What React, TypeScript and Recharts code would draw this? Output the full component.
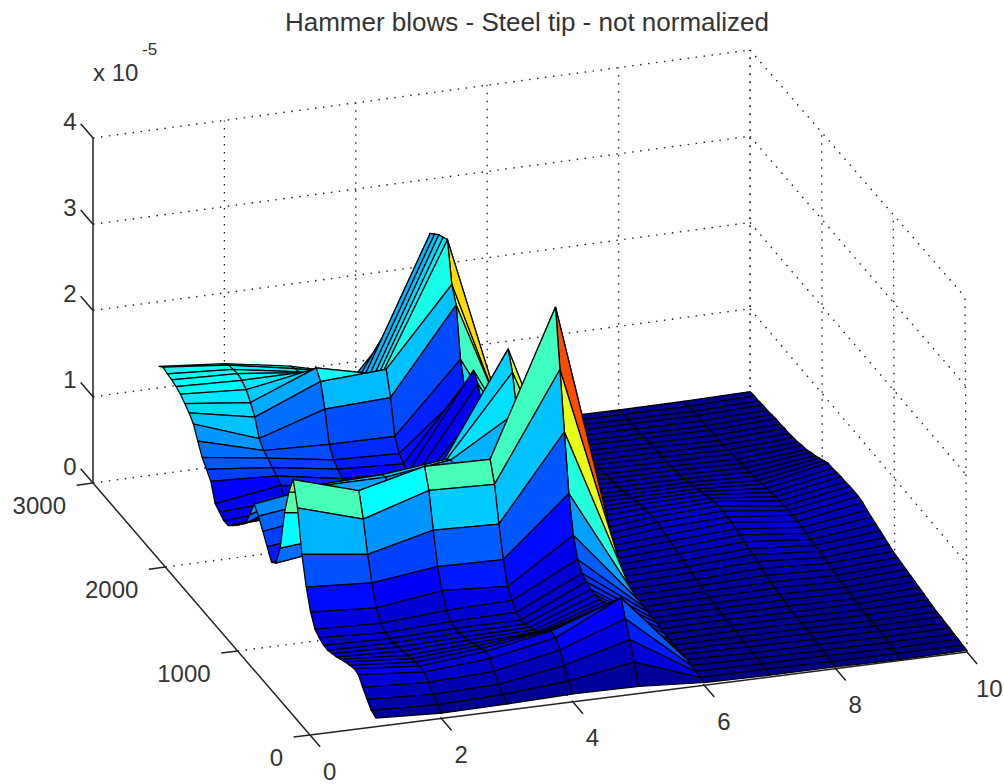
import React from 'react';
import { ScatterChart, Scatter, XAxis, YAxis } from 'recharts';

// y axis samples: one row every 60 units from 0 to 3000
const yStep = 60;
const xColumns = [1, 2, 3, 4, 5, 6, 7, 8, 9, 10];

// z values (x 10^-5) along y, one list per x column
const zAt1 = [
  0.1, 0.13, 0.2, 0.28, 0.37, 0.38, 0.36, 0.34, 0.31, 0.28,
  0.26, 0.24, 0.24, 0.27, 0.31, 0.45, 0.68, 1.0, 1.48, 1.75,
  1.55, 1.25, 0.78, 0.55, 0.5, 0.62, 0.74, 0.86, 0.94, 0.76,
  0.6, 0.53, 0.46, 0.4, 0.34, 0.34, 0.38, 0.42, 0.62, 0.7,
  0.78, 0.91, 1.05, 1.12, 1.17, 1.22, 1.25, 1.27, 1.28, 1.3,
  1.25,
];
const zAt2 = [
  0.06, 0.1, 0.16, 0.24, 0.3, 0.31, 0.3, 0.28, 0.26, 0.25,
  0.24, 0.23, 0.22, 0.23, 0.28, 0.4, 0.63, 0.9, 1.25, 1.52,
  1.4, 1.15, 0.85, 0.65, 0.6, 0.72, 0.85, 0.95, 1.05, 1.0,
  0.9, 0.75, 0.6, 0.45, 0.4, 0.38, 0.42, 0.53, 0.58, 0.62,
  0.67, 0.7, 0.78, 0.97, 1.08, 1.17, 1.22, 1.24, 1.23, 1.22,
  1.18,
];
const zAt3 = [
  0.07, 0.12, 0.18, 0.27, 0.36, 0.38, 0.36, 0.33, 0.3, 0.28,
  0.26, 0.25, 0.24, 0.26, 0.33, 0.5, 0.72, 1.08, 1.48, 1.7,
  1.5, 1.2, 0.95, 0.78, 0.72, 0.8, 0.88, 0.96, 1.05, 1.02,
  0.92, 0.8, 0.62, 0.5, 0.43, 0.4, 0.38, 0.42, 0.45, 0.5,
  0.55, 0.67, 1.02, 1.28, 1.38, 1.3, 1.22, 1.15, 1.1, 1.08,
  1.05,
];
const zAt4 = [
  0.09, 0.18, 0.3, 0.42, 0.5, 0.52, 0.46, 0.4, 0.34, 0.3,
  0.27, 0.25, 0.24, 0.27, 0.35, 0.45, 0.7, 1.05, 1.45, 1.68,
  1.55, 1.3, 1.05, 0.9, 0.82, 0.85, 0.92, 1.0, 1.15, 1.1,
  1.0, 0.85, 0.7, 0.55, 0.45, 0.4, 0.38, 0.38, 0.42, 0.46,
  0.52, 0.66, 1.05, 1.32, 1.2, 1.12, 1.05, 1.0, 0.95, 0.9,
  0.85,
];
const zAt5 = [
  0.08, 0.3, 0.5, 0.68, 0.86, 0.78, 0.7, 0.62, 0.58, 0.55,
  0.55, 0.55, 0.58, 0.62, 0.72, 0.94, 1.36, 2.01, 2.67, 3.33,
  2.7, 1.7, 0.95, 0.6, 0.5, 0.6, 0.8, 1.1, 1.6, 2.0,
  2.21, 1.7, 1.1, 0.8, 0.8, 0.95, 1.2, 1.4, 1.5, 1.35,
  1.15, 1.45, 2.02, 2.2, 2.66, 2.63, 2.6, 2.55, 2.5, 2.1,
  1.7,
];
const zAt6 = [
  0.03, 0.03, 0.04, 0.05, 0.06, 0.06, 0.05, 0.05, 0.05, 0.06,
  0.06, 0.07, 0.07, 0.08, 0.08, 0.09, 0.1, 0.11, 0.12, 0.13,
  0.14, 0.14, 0.15, 0.16, 0.17, 0.17, 0.17, 0.18, 0.19, 0.2,
  0.19, 0.18, 0.17, 0.16, 0.15, 0.14, 0.14, 0.14, 0.13, 0.13,
  0.12, 0.12, 0.11, 0.11, 0.1, 0.1, 0.09, 0.09, 0.08, 0.08,
  0.07,
];
const zAt7 = [
  0.02, 0.03, 0.03, 0.04, 0.04, 0.05, 0.05, 0.05, 0.06, 0.06,
  0.07, 0.07, 0.08, 0.08, 0.09, 0.1, 0.11, 0.12, 0.14, 0.15,
  0.16, 0.18, 0.19, 0.21, 0.22, 0.24, 0.25, 0.25, 0.24, 0.23,
  0.22, 0.2, 0.18, 0.16, 0.14, 0.13, 0.12, 0.11, 0.1, 0.1,
  0.09, 0.08, 0.08, 0.07, 0.07, 0.06, 0.06, 0.05, 0.05, 0.04,
  0.04,
];
const zAt8 = [
  0.02, 0.02, 0.03, 0.03, 0.04, 0.04, 0.05, 0.05, 0.05, 0.06,
  0.06, 0.07, 0.08, 0.09, 0.1, 0.11, 0.13, 0.15, 0.17, 0.19,
  0.2, 0.22, 0.24, 0.25, 0.27, 0.27, 0.28, 0.28, 0.27, 0.25,
  0.23, 0.21, 0.18, 0.16, 0.14, 0.12, 0.11, 0.1, 0.09, 0.08,
  0.08, 0.07, 0.07, 0.06, 0.06, 0.05, 0.05, 0.05, 0.04, 0.04,
  0.03,
];
const zAt9 = [
  0.01, 0.02, 0.02, 0.03, 0.03, 0.04, 0.04, 0.04, 0.05, 0.05,
  0.06, 0.06, 0.07, 0.07, 0.08, 0.09, 0.1, 0.11, 0.12, 0.13,
  0.14, 0.15, 0.16, 0.17, 0.18, 0.19, 0.19, 0.18, 0.18, 0.17,
  0.16, 0.15, 0.14, 0.12, 0.11, 0.1, 0.09, 0.08, 0.07, 0.07,
  0.06, 0.06, 0.05, 0.05, 0.05, 0.04, 0.04, 0.04, 0.03, 0.03,
  0.03,
];
const zAt10 = [
  0.02, 0.02, 0.03, 0.03, 0.04, 0.04, 0.05, 0.05, 0.06, 0.07,
  0.08, 0.09, 0.1, 0.11, 0.12, 0.13, 0.14, 0.15, 0.17, 0.19,
  0.21, 0.23, 0.25, 0.27, 0.3, 0.31, 0.31, 0.31, 0.3, 0.3,
  0.29, 0.28, 0.28, 0.25, 0.22, 0.19, 0.17, 0.14, 0.13, 0.11,
  0.1, 0.09, 0.09, 0.08, 0.08, 0.07, 0.06, 0.06, 0.05, 0.05,
  0.04,
];
const zColumns = [zAt1, zAt2, zAt3, zAt4, zAt5, zAt6, zAt7, zAt8, zAt9, zAt10];

const xTicks = [0, 2, 4, 6, 8, 10];
const yTicks = [0, 1000, 2000, 3000];
const zTicks = [0, 1, 2, 3, 4];

const W = 1004;
const H = 784;
const xMax = 10;
const yMax = 3000;
const zMax = 4;
const colorMax = 3.33;
const FONT = '"Liberation Sans", Arial, sans-serif';

// screen position of the box corners, floor then lid
const floorC = { a: [310, 735], b: [967, 652], c: [93, 483], d: [750, 395] };
const lidC = { a: [310, 390], b: [965, 297], c: [93, 138], d: [750, 50] };

const bilerp = (c: typeof floorC, u: number, v: number, i: number) =>
  (1 - u) * (1 - v) * c.a[i] + u * (1 - v) * c.b[i] + (1 - u) * v * c.c[i] + u * v * c.d[i];

const project = (x: number, y: number, z: number) => {
  const u = x / xMax;
  const v = y / yMax;
  const w = z / zMax;
  return {
    px: bilerp(floorC, u, v, 0) * (1 - w) + bilerp(lidC, u, v, 0) * w,
    py: bilerp(floorC, u, v, 1) * (1 - w) + bilerp(lidC, u, v, 1) * w,
  };
};

// matlab jet
const jet = (t: number) => {
  const ch = (c: number) => Math.round(255 * Math.max(0, Math.min(1, 1.5 - Math.abs(4 * t - c))));
  return `rgb(${ch(3)},${ch(2)},${ch(1)})`;
};

const NoMark = () => <g />;

const segment = (a: number[], b: number[]) => [project(a[0], a[1], a[2]), project(b[0], b[1], b[2])];

// dotted grid on the back walls and the floor
const gridLines: any[] = [];
xTicks.slice(1).forEach((t) => {
  gridLines.push(segment([t, yMax, 0], [t, yMax, zMax]));
  gridLines.push(segment([t, 0, 0], [t, yMax, 0]));
});
yTicks.forEach((t) => {
  gridLines.push(segment([xMax, t, 0], [xMax, t, zMax]));
  if (t > 0 && t < yMax) gridLines.push(segment([0, t, 0], [xMax, t, 0]));
});
zTicks.forEach((t) => {
  gridLines.push(segment([0, yMax, t], [xMax, yMax, t]));
  if (t > 0) gridLines.push(segment([xMax, yMax, t], [xMax, 0, t]));
});

// far facets first; each facet takes its colour from its low x, low y corner
const facets: { points: any[]; color: string }[] = [];
for (let i = zAt1.length - 2; i >= 0; i--) {
  for (let j = xColumns.length - 2; j >= 0; j--) {
    const y0 = i * yStep;
    const y1 = (i + 1) * yStep;
    const x0 = xColumns[j];
    const x1 = xColumns[j + 1];
    const a = project(x0, y0, zColumns[j][i]);
    facets.push({
      points: [a, project(x1, y0, zColumns[j + 1][i]), project(x1, y1, zColumns[j + 1][i + 1]), project(x0, y1, zColumns[j][i + 1]), a],
      color: jet(zColumns[j][i] / colorMax),
    });
  }
}

const axisLines = [
  segment([0, 0, 0], [xMax, 0, 0]),
  segment([0, 0, 0], [0, yMax, 0]),
  segment([0, yMax, 0], [0, yMax, zMax]),
  ...xTicks.map((t) => segment([t, 0, 0], [t, -140, 0])),
  ...yTicks.map((t) => segment([0, t, 0], [-0.25, t, 0])),
  ...zTicks.map((t) => segment([0, yMax, t], [0, yMax + 170, t])),
];

const labels = [
  ...xTicks.map((t) => {
    const p = project(t, 0, 0);
    // the two digit label sits against the right edge of the page
    return { px: p.px + (t === xMax ? 9 : 13), py: p.py + 36, text: String(t), anchor: 'start', size: 24 };
  }),
  ...yTicks.map((t) => {
    const p = project(0, t, 0);
    return { px: p.px - 27, py: p.py + 22, text: String(t), anchor: 'end', size: 24 };
  }),
  ...zTicks.map((t) => {
    const p = project(0, yMax, t);
    return { px: p.px - 23, py: p.py - 17, text: String(t), anchor: 'middle', size: 24 };
  }),
  { px: 527, py: 22, text: 'Hammer blows - Steel tip - not normalized', anchor: 'middle', size: 26 },
  { px: 93, py: 72, text: 'x 10', anchor: 'start', size: 24 },
  { px: 142, py: 49, text: '-5', anchor: 'start', size: 17 },
];

const TextMark = (props: any) => (
  <text
    x={props.cx}
    y={props.cy}
    textAnchor={props.payload.anchor}
    dominantBaseline="central"
    fontFamily={FONT}
    fontSize={props.payload.size}
    fill="#333"
  >
    {props.payload.text}
  </text>
);

export default function App() {
  return (
    <div style={{ position: 'absolute', left: 0, top: 0, width: W, height: H, background: '#fff' }}>
      <ScatterChart width={W} height={H} margin={{ top: 0, right: 0, bottom: 0, left: 0 }}>
        <XAxis type="number" dataKey="px" domain={[0, W]} hide allowDataOverflow />
        <YAxis type="number" dataKey="py" domain={[0, H]} reversed hide allowDataOverflow />
        {gridLines.map((d, i) => (
          <Scatter
            key={`grid${i}`}
            data={d}
            shape={NoMark}
            isAnimationActive={false}
            line={{ stroke: '#222', strokeWidth: 1.4, strokeDasharray: '1.5 6.5' }}
          />
        ))}
        {facets.map((f, i) => (
          <Scatter
            key={`facet${i}`}
            data={f.points}
            shape={NoMark}
            isAnimationActive={false}
            line={{ fill: f.color, stroke: '#000', strokeWidth: 1.25 }}
          />
        ))}
        {axisLines.map((d, i) => (
          <Scatter
            key={`axis${i}`}
            data={d}
            shape={NoMark}
            isAnimationActive={false}
            line={{ stroke: '#222', strokeWidth: 1.5 }}
          />
        ))}
        <Scatter data={labels} shape={TextMark} isAnimationActive={false} />
      </ScatterChart>
    </div>
  );
}
